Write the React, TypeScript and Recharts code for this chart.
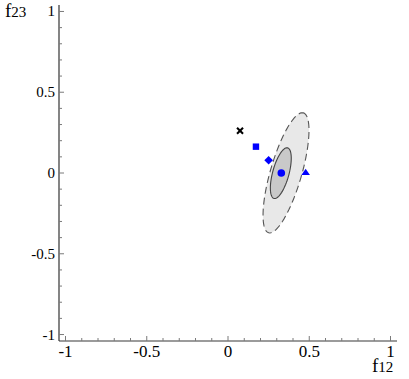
import React from 'react';
import { ScatterChart, Scatter, XAxis, YAxis } from 'recharts';

// axis ticks
const allTicks = [-1, -0.9, -0.8, -0.7, -0.6, -0.5, -0.4, -0.3, -0.2, -0.1, 0, 0.1, 0.2, 0.3, 0.4, 0.5, 0.6, 0.7, 0.8, 0.9, 1];
const majorTicks = [-1, -0.5, 0, 0.5, 1];
const majorLabels = ['-1', '-0.5', '0', '0.5', '1'];

// points (f12, f23)
const crossPoint = [{ x: 0.074, y: 0.262 }];
const squarePoint = [{ x: 0.172, y: 0.163 }];
const diamondPoint = [{ x: 0.25, y: 0.079 }];
const circlePoint = [{ x: 0.328, y: 0.0 }];
const trianglePoint = [{ x: 0.478, y: 0.004 }];

// confidence regions: center, vector to topmost point, horizontal half chord through center
const outerCenter = [0.357, 0.001];
const outerTopVec = [0.1, 0.372];
const outerHalfChord = [0.1, 0];
const innerCenter = [0.325, -0.001];
const innerTopVec = [0.0378, 0.157];
const innerHalfChord = [0.052, 0];

const contour = (c: number[], u: number[], h: number[]) => {
  const pts: { x: number; y: number }[] = [];
  const n = 90;
  for (let i = 0; i <= n; i++) {
    const t = (2 * Math.PI * i) / n;
    pts.push({ x: c[0] + u[0] * Math.cos(t) + h[0] * Math.sin(t), y: c[1] + u[1] * Math.cos(t) + h[1] * Math.sin(t) });
  }
  return pts;
};
const outerContour = contour(outerCenter, outerTopVec, outerHalfChord);
const innerContour = contour(innerCenter, innerTopVec, innerHalfChord);

const FRAME = '#7a7a7a';
const FONT = "'Liberation Serif', 'DejaVu Serif', Tinos, 'Times New Roman', serif";
const isMajor = (v: number) => majorTicks.some((m) => Math.abs(m - v) < 1e-9);
const labelOf = (v: number) => majorLabels[majorTicks.findIndex((m) => Math.abs(m - v) < 1e-9)];

const BottomTick = (p: any) => {
  const v = p.payload.value;
  const maj = isMajor(v);
  return (
    <g>
      <line x1={p.x} x2={p.x} y1={p.y} y2={p.y - (maj ? 5 : 3)} stroke={FRAME} strokeWidth={1} />
      {maj && (
        <text x={p.x} y={p.y + 16} textAnchor="middle" fontFamily={FONT} style={{ fontFamily: FONT }} fontSize={17} fill="#000">
          {labelOf(v)}
        </text>
      )}
    </g>
  );
};
const TopTick = (p: any) => {
  const v = p.payload.value;
  const maj = isMajor(v);
  return <line x1={p.x} x2={p.x} y1={p.y} y2={p.y + (maj ? 5 : 3)} stroke={FRAME} strokeWidth={1} />;
};
const LeftTick = (p: any) => {
  const v = p.payload.value;
  const maj = isMajor(v);
  return (
    <g>
      <line x1={p.x} x2={p.x + (maj ? 5 : 3)} y1={p.y} y2={p.y} stroke={FRAME} strokeWidth={1} />
      {maj && (
        <text x={p.x - 4} y={p.y + 5} textAnchor="end" fontFamily={FONT} style={{ fontFamily: FONT }} fontSize={15} fill="#000">
          {labelOf(v)}
        </text>
      )}
    </g>
  );
};
const RightTick = (p: any) => {
  const v = p.payload.value;
  const maj = isMajor(v);
  return <line x1={p.x} x2={p.x - (maj ? 5 : 3)} y1={p.y} y2={p.y} stroke={FRAME} strokeWidth={1} />;
};

const ellipseLine = (fill: string, stroke: string, dash?: string) => (props: any) => {
  const pts = props.points || [];
  const d = pts.map((q: any, i: number) => `${i ? 'L' : 'M'}${q.x},${q.y}`).join('') + 'Z';
  return <path d={d} fill={fill} stroke={stroke} strokeWidth={1.1} strokeDasharray={dash} />;
};
const noShape = () => <g />;

const CrossShape = (p: any) => (
  <g stroke="#000" strokeWidth={2}>
    <line x1={p.cx - 3} y1={p.cy - 3} x2={p.cx + 3} y2={p.cy + 3} />
    <line x1={p.cx - 3} y1={p.cy + 3} x2={p.cx + 3} y2={p.cy - 3} />
  </g>
);
const SquareShape = (p: any) => <rect x={p.cx - 3.2} y={p.cy - 3.2} width={6.4} height={6.4} fill="#0000ff" />;
const DiamondShape = (p: any) => (
  <path d={`M${p.cx},${p.cy - 4.3}L${p.cx + 4.3},${p.cy}L${p.cx},${p.cy + 4.3}L${p.cx - 4.3},${p.cy}Z`} fill="#0000ff" />
);
const CircleShape = (p: any) => <circle cx={p.cx} cy={p.cy} r={3.8} fill="#0000ff" />;
const TriangleShape = (p: any) => (
  <path d={`M${p.cx},${p.cy - 3.5}L${p.cx + 4.3},${p.cy + 2.7}L${p.cx - 4.3},${p.cy + 2.7}Z`} fill="#0000ff" />
);

const DOMAIN: [number, number] = [-1.04, 1.04];

export default function App() {
  return (
    <div style={{ position: 'absolute', left: 0, top: 0, width: 409, height: 379, background: '#fff', fontFamily: FONT }}>
      <ScatterChart width={409} height={379} margin={{ top: 5, right: 12, bottom: 0, left: 0 }}>
        <XAxis
          xAxisId="b"
          type="number"
          dataKey="x"
          domain={DOMAIN}
          ticks={allTicks}
          interval={0}
          orientation="bottom"
          height={38}
          tickSize={0}
          tickMargin={0}
          tick={<BottomTick />}
          axisLine={{ stroke: FRAME, strokeWidth: 1.4 }}
          allowDataOverflow
        />
        <XAxis
          xAxisId="t"
          type="number"
          dataKey="x"
          domain={DOMAIN}
          ticks={allTicks}
          interval={0}
          orientation="top"
          height={0}
          tickSize={0}
          tickMargin={0}
          tick={<TopTick />}
          axisLine={{ stroke: FRAME, strokeWidth: 1.6 }}
          allowDataOverflow
        />
        <YAxis
          yAxisId="l"
          type="number"
          dataKey="y"
          domain={DOMAIN}
          ticks={allTicks}
          interval={0}
          orientation="left"
          width={59}
          tickSize={0}
          tickMargin={0}
          tick={<LeftTick />}
          axisLine={{ stroke: '#333', strokeWidth: 1.2 }}
          allowDataOverflow
        />
        <YAxis
          yAxisId="r"
          type="number"
          dataKey="y"
          domain={DOMAIN}
          ticks={allTicks}
          interval={0}
          orientation="right"
          width={0}
          tickSize={0}
          tickMargin={0}
          tick={<RightTick />}
          axisLine={{ stroke: FRAME, strokeWidth: 1.4 }}
          allowDataOverflow
        />
        <Scatter xAxisId="t" yAxisId="r" data={[]} isAnimationActive={false} />
        <Scatter xAxisId="b" yAxisId="l" data={outerContour} shape={noShape} line={ellipseLine('#e8e8e8', '#555', '7 4')} isAnimationActive={false} />
        <Scatter xAxisId="b" yAxisId="l" data={innerContour} shape={noShape} line={ellipseLine('#c9c9c9', '#444')} isAnimationActive={false} />
        <Scatter xAxisId="b" yAxisId="l" data={crossPoint} shape={CrossShape} isAnimationActive={false} />
        <Scatter xAxisId="b" yAxisId="l" data={squarePoint} shape={SquareShape} isAnimationActive={false} />
        <Scatter xAxisId="b" yAxisId="l" data={diamondPoint} shape={DiamondShape} isAnimationActive={false} />
        <Scatter xAxisId="b" yAxisId="l" data={circlePoint} shape={CircleShape} isAnimationActive={false} />
        <Scatter xAxisId="b" yAxisId="l" data={trianglePoint} shape={TriangleShape} isAnimationActive={false} />
      </ScatterChart>
      <div style={{ position: 'absolute', left: 5, top: 0, fontFamily: FONT, whiteSpace: 'nowrap', lineHeight: '22px' }}>
        <span style={{ fontSize: 19 }}>f</span>
        <span style={{ fontSize: 15 }}>23</span>
      </div>
      <div style={{ position: 'absolute', left: 372, top: 355, fontFamily: FONT, whiteSpace: 'nowrap', lineHeight: '22px' }}>
        <span style={{ fontSize: 19 }}>f</span>
        <span style={{ fontSize: 15 }}>12</span>
      </div>
    </div>
  );
}
